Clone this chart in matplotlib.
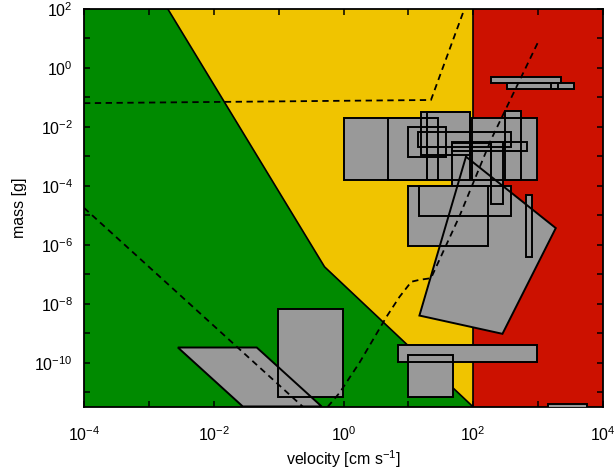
import numpy as np
import matplotlib
matplotlib.use('Agg')
import matplotlib.pyplot as plt
from matplotlib.ticker import LogLocator, FuncFormatter, NullLocator
from matplotlib.patches import Polygon

plt.rcParams['font.family'] = ['Liberation Sans', 'DejaVu Sans']
plt.rcParams['mathtext.default'] = 'regular'

GREEN, YELLOW, RED, GRAY = '#008a00', '#f0c400', '#cc1100', '#999999'

V_MIN, V_MAX = 1e-4, 1e4
M_MIN, M_MAX = 10 ** -11.5, 1e2

# green / yellow boundary (velocity cm/s, mass g)
boundary_v = [1.96e-3, 0.51, 100]
boundary_m = [100, 1.8e-7, M_MIN]
red_limit_v = 100

# dashed curves
dash1_v = [1e-4, 22.3, 73]
dash1_m = [0.064, 0.082, 100]
dash2_v = [0.57, 0.87, 1.76, 4.59, 7.27, 11.1, 14.8, 22.3, 61, 187, 1035]
dash2_m = [3.2e-12, 9.6e-12, 1e-10, 3.6e-9, 1.7e-8, 5.6e-8, 6.5e-8, 7.4e-8, 9.1e-6, 3.6e-3, 8.9]
dash3_v = [1e-4, 0.3]
dash3_m = [1.8e-5, 2e-12]

# gray boxes: velocity range, mass range
box_v_lo = [1.0, 4.9, 15.7, 19.6, 9.7, 14.3, 97, 307, 47.5, 189, 47.5, 9.75, 14.4, 661,
            191, 337, 1570, 6.8, 9.75, 1440, 0.0975]
box_v_hi = [19.6, 29, 90, 90, 38, 385, 966, 553, 677, 290, 189, 166, 380, 817,
            2280, 3580, 2050, 955, 48, 5730, 0.975]
box_m_lo = [1.6e-4, 1.6e-4, 1.1e-3, 1.6e-4, 9.6e-4, 2.1e-3, 1.6e-4, 1.6e-4, 1.5e-3, 2.4e-5,
            1.0e-4, 9.2e-7, 9.6e-6, 3.8e-7, 0.32, 0.197, 0.197, 1.06e-10, 6.7e-12, 1e-12, 6.7e-12]
box_m_hi = [0.020, 0.020, 0.032, 0.032, 0.010, 6.8e-3, 0.020, 0.035, 3.0e-3, 3.0e-3,
            2.9e-3, 1.0e-4, 1.0e-4, 5.0e-5, 0.48, 0.30, 0.30, 4.1e-10, 1.9e-10, 4.1e-12, 6.8e-9]

# other gray shapes
para_v = [2.8e-3, 0.046, 0.46, 0.028]
para_m = [3.3e-10, 3.3e-10, 3.3e-12, 3.3e-12]
quad_v = [77.2, 1871, 282, 14.8]
quad_m = [9.8e-4, 3.7e-6, 9.6e-10, 4.0e-9]

fig = plt.figure(figsize=(6.15, 4.72), dpi=100)
ax = fig.add_axes([84 / 615, 1 - 407 / 472, (603 - 84) / 615, (407 - 9) / 472])
ax.set_xscale('log')
ax.set_yscale('log')
ax.set_xlim(V_MIN, V_MAX)
ax.set_ylim(M_MIN, M_MAX)
ax.set_facecolor(YELLOW)

# regions
ax.fill([V_MIN, V_MIN] + boundary_v, [M_MIN, M_MAX] + boundary_m, color=GREEN, lw=0, zorder=1)
ax.axvspan(red_limit_v, V_MAX, color=RED, lw=0, zorder=1)
ax.plot(boundary_v, boundary_m, color='k', lw=1.2, zorder=2)
ax.axvline(red_limit_v, color='k', lw=1.2, zorder=2)

# gray shapes: fills first, then all outlines on top
shapes = []
for v0, v1, m0, m1 in zip(box_v_lo, box_v_hi, box_m_lo, box_m_hi):
    shapes.append([(v0, m0), (v1, m0), (v1, m1), (v0, m1)])
shapes.append(list(zip(para_v, para_m)))
shapes.append(list(zip(quad_v, quad_m)))
for pts in shapes:
    ax.add_patch(Polygon(pts, closed=True, facecolor=GRAY, edgecolor='none', zorder=3))
for pts in shapes:
    ax.add_patch(Polygon(pts, closed=True, fill=False, edgecolor='k', lw=1.4, zorder=4))

# dashed curves
for v, m in [(dash1_v, dash1_m), (dash2_v, dash2_m), (dash3_v, dash3_m)]:
    ax.plot(v, m, color='k', lw=1.3, ls=(0, (3.5, 2.5)), zorder=5)


def even_decades(val, pos):
    e = int(round(np.log10(val)))
    return '$10^{%d}$' % e if e % 2 == 0 else ''


for axis in (ax.xaxis, ax.yaxis):
    axis.set_major_locator(LogLocator(base=10, numticks=30))
    axis.set_minor_locator(NullLocator())
    axis.set_major_formatter(FuncFormatter(even_decades))

ax.tick_params(which='both', direction='in', top=True, right=True, length=4.5, width=1.1,
               labelsize=11.5)
ax.tick_params(axis='x', pad=13)
ax.tick_params(axis='y', pad=8)
for s in ax.spines.values():
    s.set_linewidth(1.3)

ax.set_xlabel('velocity [cm s$^{-1}$]', fontsize=11.5, labelpad=3)
ax.set_ylabel('mass [g]', fontsize=11.5, labelpad=5)

fig.savefig('out.png', dpi=100)
